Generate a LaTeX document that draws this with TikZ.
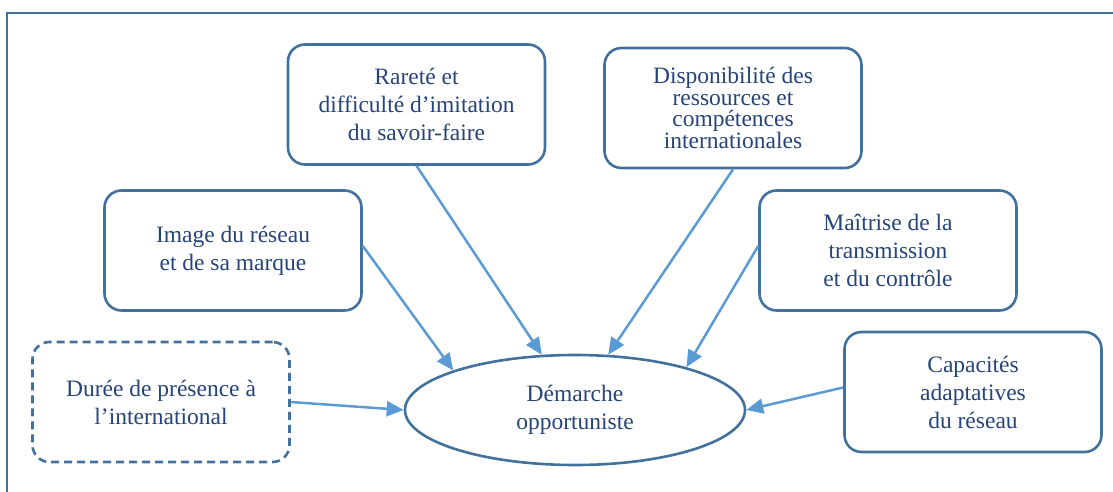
\documentclass[tikz,border=0pt]{standalone}
\usepackage{fontspec}
\setmainfont{Liberation Serif}
\usetikzlibrary{arrows.meta,shapes.geometric}

\definecolor{boxblue}{RGB}{65,113,156}
\definecolor{arrowblue}{RGB}{91,155,213}
\definecolor{textblue}{RGB}{38,68,120}

\begin{document}
\begin{tikzpicture}[x=1pt,y=-1pt,
		factor/.style={draw=boxblue, line width=2.6pt, rounded corners=17pt, align=center, text=textblue, font=\fontsize{23.5}{28}\selectfont, inner sep=0pt, minimum width=257pt, minimum height=120pt},
		dashedfactor/.style={factor, dash pattern=on 8pt off 5pt},
		centre/.style={ellipse, draw=boxblue, line width=2.6pt, align=center, text=textblue, font=\fontsize{23.5}{28}\selectfont, inner sep=0pt, minimum width=340pt, minimum height=110pt},
		influence/.style={draw=arrowblue, line width=2.5pt, -{Triangle[length=17pt,width=15pt]}}]
		\useasboundingbox (0,0) rectangle (1113,492);
		\draw[boxblue, line width=2.4pt] (7,492) -- (7,13) -- (1113,13);
		\node[factor] (rarete) at (416.5,104.5) {Raret\'e et\\difficult\'e d'imitation\\du savoir-faire};
		\node[factor, font=\fontsize{23.5}{21.7}\selectfont] (dispo) at (733,108) {Disponibilit\'e des\\ressources et\\comp\'etences\\internationales};
		\node[factor] (image) at (233,250.5) {Image du r\'eseau\\et de sa marque};
		\node[factor] (maitrise) at (888,250.5) {Ma\^itrise de la\\transmission\\et du contr\^ole};
		\node[dashedfactor] (duree) at (161,402) {Dur\'ee de pr\'esence \`a\\l'international};
		\node[factor] (capacites) at (973,392) {Capacit\'es\\adaptatives\\du r\'eseau};
		\node[centre] (demarche) at (575,410) {D\'emarche\\opportuniste};
		\draw[influence] (rarete.south) -- (demarche.121);
		\draw[influence] (dispo.south) -- (demarche.59);
		\draw[influence] (image.2) -- (demarche.162);
		\draw[influence] (maitrise.178) -- (demarche.21);
		\draw[influence] (duree.east) -- (demarche.west);
		\draw[influence] (capacites.178) -- (demarche.east);
	\end{tikzpicture}
\end{document}
